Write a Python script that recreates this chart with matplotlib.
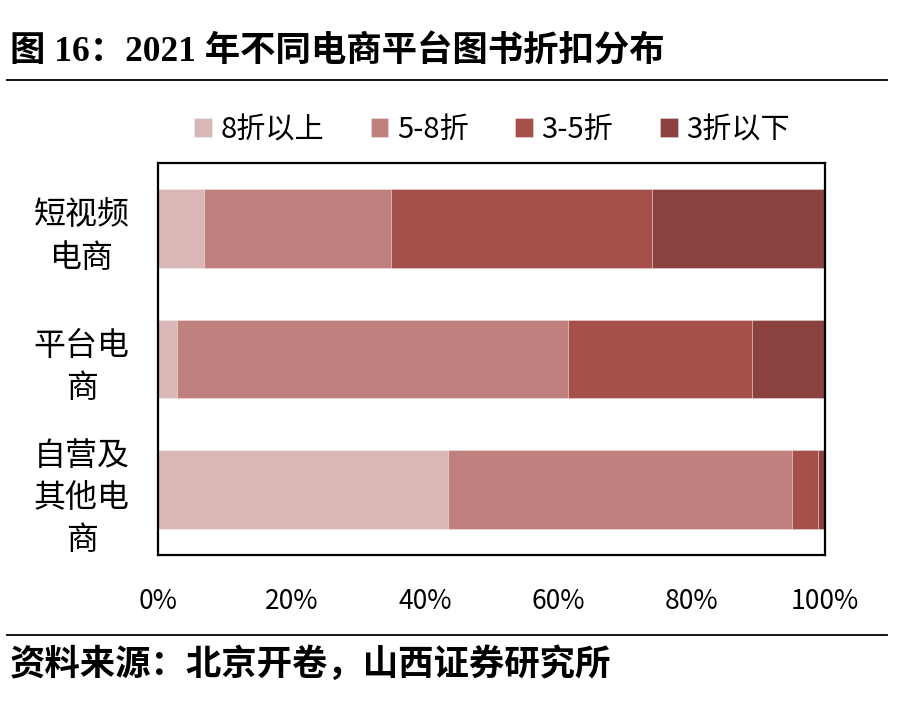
import matplotlib
matplotlib.use("Agg")
import matplotlib.pyplot as plt
import numpy as np

# data (percent of books per discount band)
categories = ['短视频\n电商', '平台电\n商', '自营及\n其他电\n商']
series_names = ['8折以上', '5-8折', '3-5折', '3折以下']
above_8 = [6.9, 2.9, 43.5]
band_5_8 = [28.1, 58.5, 51.5]
band_3_5 = [39.1, 27.7, 4.0]
below_3 = [25.9, 10.9, 1.0]
x_ticks = [0, 20, 40, 60, 80, 100]
x_tick_labels = ['0%', '20%', '40%', '60%', '80%', '100%']

colors = ['#D8B7B6', '#C0807E', '#A5504B', '#8B413E']

sans = ['Noto Sans CJK SC', 'DejaVu Sans']
plt.rcParams['font.family'] = sans

fig = plt.figure(figsize=(9, 7.12), dpi=100)
ax = fig.add_axes([158 / 900, 1 - 555 / 712, (825 - 158) / 900, (555 - 163) / 712])

y = np.arange(len(categories))
left = np.zeros(len(categories))
for name, vals, c in zip(series_names, [above_8, band_5_8, band_3_5, below_3], colors):
    ax.barh(y, vals, left=left, height=0.6, color=c, label=name,
            edgecolor=(1, 1, 1, 0.35), linewidth=0.6)
    left += np.array(vals)

ax.set_xlim(0, 100)
ax.set_ylim(2.5, -0.5)
ax.set_yticks(y)
ax.set_yticklabels(categories, fontsize=23, linespacing=1.4, ha='center')
ax.tick_params(axis='y', length=0, pad=55)
ax.set_xticks(x_ticks)
ax.set_xticklabels(x_tick_labels, fontsize=19)
ax.tick_params(axis='x', length=0, pad=24)
for s in ax.spines.values():
    s.set_linewidth(1.6)
    s.set_color('black')

fig.legend(loc='center', bbox_to_anchor=(492 / 900, 1 - 130 / 712), ncol=4,
           frameon=False, fontsize=21, handlelength=0.6, handleheight=0.6,
           handletextpad=0.3, columnspacing=1.6)

# title, rules and source line
fig.text(10 / 900, 1 - 52 / 712, '图 16：2021 年不同电商平台图书折扣分布',
         fontsize=25.5, fontweight='bold', va='center', ha='left',
         family=['Liberation Serif', 'Noto Sans CJK SC'])
fig.add_artist(plt.Line2D([7 / 900, 887 / 900], [1 - 80 / 712] * 2,
                          color='black', linewidth=1.3))
fig.add_artist(plt.Line2D([7 / 900, 887 / 900], [1 - 635 / 712] * 2,
                          color='black', linewidth=1.3))
fig.text(10 / 900, 1 - 664 / 712, '资料来源：北京开卷，山西证券研究所',
         fontsize=25.5, fontweight='bold', va='center', ha='left')

fig.savefig('out.png', dpi=100)
